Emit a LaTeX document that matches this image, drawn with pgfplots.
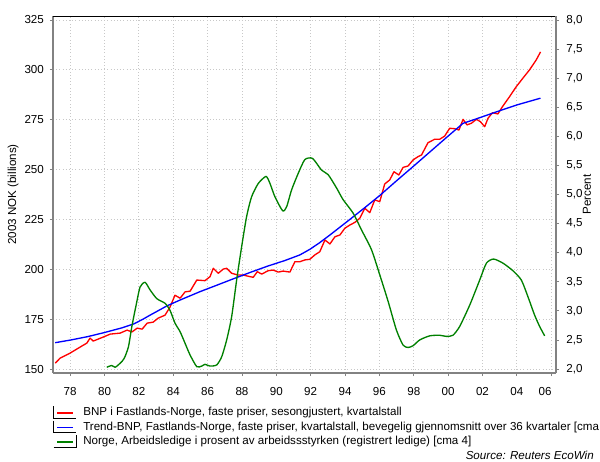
\documentclass[border=0pt]{standalone}
\usepackage{pgfplots}
\pgfplotsset{compat=1.18}
\usepackage{fontspec}
\setmainfont{Liberation Sans}
\definecolor{cred}{RGB}{255,0,0}
\definecolor{cblue}{RGB}{0,0,255}
\definecolor{cgreen}{RGB}{0,128,0}
\definecolor{gridc}{RGB}{200,200,200}
\definecolor{axc}{RGB}{130,130,130}
\newcommand{\chartfont}{\fontsize{8.7}{10}\selectfont}

\pgfplotstableread{
x y
1977.13 152.9
1977.42 155.5
1978.00 158.0
1978.58 161.0
1978.97 163.0
1979.16 165.5
1979.34 164.0
1979.92 166.0
1980.33 167.5
1980.91 168.0
1981.31 169.5
1981.60 168.6
1981.90 170.5
1982.19 170.0
1982.48 173.0
1982.83 173.5
1983.12 175.5
1983.52 177.0
1983.81 181.0
1984.10 187.0
1984.40 185.5
1984.69 188.7
1984.98 189.0
1985.37 194.6
1985.85 194.3
1986.14 196.3
1986.33 200.5
1986.62 198.0
1986.91 200.1
1987.11 200.5
1987.40 198.0
1987.78 197.1
1988.08 197.1
1988.47 196.3
1988.66 196.0
1988.89 198.8
1989.15 197.6
1989.53 199.3
1989.82 199.6
1990.11 198.6
1990.40 199.1
1990.79 198.6
1991.08 203.8
1991.37 203.8
1991.66 204.7
1991.95 205.0
1992.24 207.2
1992.53 208.8
1992.83 214.7
1993.12 212.7
1993.41 216.3
1993.70 217.2
1993.99 220.6
1994.28 222.2
1994.57 223.5
1994.86 225.6
1995.15 230.6
1995.44 228.4
1995.73 234.8
1996.02 233.9
1996.31 242.8
1996.60 244.8
1996.85 248.9
1997.13 247.3
1997.38 251.1
1997.67 251.8
1997.96 254.8
1998.25 256.5
1998.45 257.3
1998.83 263.5
1999.22 265.2
1999.51 265.2
1999.80 266.8
2000.09 270.7
2000.38 270.5
2000.63 269.8
2000.87 275.2
2001.10 272.4
2001.35 273.2
2001.65 275.2
2001.88 274.0
2002.13 271.5
2002.32 275.7
2002.58 278.5
2002.90 277.9
2003.16 281.5
2003.58 286.6
2003.97 291.6
2004.35 295.8
2004.74 300.0
2005.13 305.0
2005.38 309.0
}\bnp

\pgfplotstableread{
x y
1977.13 163.2
1978.00 164.5
1979.00 166.2
1980.00 168.3
1981.00 170.6
1981.70 172.6
1982.20 174.8
1982.65 177.0
1983.20 179.6
1983.62 181.6
1984.40 184.6
1985.56 188.8
1986.50 191.9
1987.49 195.2
1988.50 198.5
1989.50 201.6
1990.50 204.4
1991.37 207.2
1991.95 210.0
1992.50 213.2
1993.12 217.2
1994.28 225.0
1995.15 230.9
1996.02 237.0
1997.00 244.4
1998.00 251.8
1999.00 259.3
2000.00 266.8
2000.87 273.2
2001.50 275.0
2002.00 276.5
2003.00 279.5
2004.00 282.4
2005.38 285.8
}\trend

\pgfplotstableread{
x y
1980.13 2.03
1980.42 2.06
1980.62 2.03
1980.91 2.10
1981.14 2.18
1981.39 2.38
1981.59 2.73
1981.84 3.10
1982.07 3.41
1982.36 3.49
1982.65 3.36
1983.04 3.21
1983.52 3.13
1983.81 3.01
1984.10 2.79
1984.40 2.64
1984.69 2.44
1984.98 2.24
1985.37 2.04
1985.66 2.05
1985.85 2.08
1986.14 2.05
1986.53 2.07
1986.82 2.21
1987.11 2.50
1987.40 2.90
1987.69 3.53
1987.98 4.10
1988.27 4.62
1988.56 4.96
1988.95 5.19
1989.40 5.31
1989.63 5.19
1989.92 4.96
1990.37 4.72
1990.60 4.79
1990.89 5.08
1991.27 5.36
1991.66 5.60
1992.11 5.62
1992.63 5.42
1993.02 5.34
1993.51 5.11
1993.89 4.91
1994.47 4.68
1994.96 4.39
1995.54 4.05
1996.02 3.62
1996.51 3.16
1996.99 2.67
1997.38 2.41
1997.67 2.37
1997.96 2.40
1998.35 2.50
1998.93 2.57
1999.51 2.58
1999.90 2.56
2000.28 2.58
2000.67 2.73
2001.26 3.10
2001.84 3.53
2002.23 3.82
2002.65 3.89
2003.19 3.82
2003.77 3.69
2004.26 3.53
2004.65 3.24
2005.03 2.93
2005.33 2.73
2005.62 2.57
}\unemp

\begin{document}
\begin{tikzpicture}
\useasboundingbox (0,0) rectangle (450pt,345.75pt);
\pgfplotsset{
  base/.style={
    at={(39.75pt,66pt)}, anchor=south west,
    width=377.25pt, height=267.75pt, scale only axis,
    xmin=1977.0, xmax=2006.28,
    font=\chartfont,
    tick label style={font=\chartfont},
    /pgf/number format/assume math mode=true,
    tick align=outside,
    major tick length=2.3pt,
    tick style={axc, line width=0.6pt},
  }
}
\begin{axis}[base,
  ymin=148, ymax=327,
  axis x line*=bottom, axis y line*=left,
  axis line style={axc, line width=1.3pt, -},
  xtick={1978,1980,...,2006},
  xticklabels={78,80,82,84,86,88,90,92,94,96,98,00,02,04,06\hspace*{9pt}},
  xticklabel style={yshift=-5pt},
  ytick={150,175,...,325},
  yticklabel style={xshift=-1pt},
  grid=major,
  major grid style={gridc, dotted, line width=0.7pt},
  ylabel={2003 NOK (billions)},
  every axis y label/.style={at={(axis description cs:-0.0795,0.5)}, anchor=center, rotate=90},
]
\addplot[cred, line width=1pt, line join=round] table[x=x,y=y] {\bnp};
\addplot[cblue, line width=1pt, line join=round] table[x=x,y=y] {\trend};
\end{axis}
\begin{axis}[base,
  ymin=1.931, ymax=8.069,
  axis x line*=top, axis y line*=right,
  x axis line style={black, line width=0.7pt, -},
  y axis line style={axc, line width=1.3pt, -},
  xtick=\empty,
  ytick={2,2.5,...,8.01},
  yticklabel style={xshift=2pt, /pgf/number format/.cd, fixed, fixed zerofill, precision=1, use comma},
  ylabel={Percent},
  every axis y label/.style={at={(axis description cs:1.0616,0.5)}, anchor=center, rotate=90},
]
\addplot[cgreen, line width=1pt, smooth, tension=0.4] table[x=x,y=y] {\unemp};
\end{axis}
% legend (pixel coordinates of the 600x461 canvas)
\begin{scope}[x=0.75pt, y=-0.75pt, yshift=345.75pt]
  \draw[black, line width=0.5pt] (53.6,406) -- (53.6,418) -- (76,418);
  \draw[cred, line width=1pt] (57,413) -- (73,413);
  \node[anchor=west, inner sep=0pt, font=\chartfont] at (83,412.5) {BNP i Fastlands-Norge, faste priser, sesongjustert, kvartalstall};
  \draw[black, line width=0.5pt] (53.6,420.5) -- (53.6,432.5) -- (76,432.5);
  \draw[cblue, line width=1pt] (57,427.5) -- (73,427.5);
  \node[anchor=west, inner sep=0pt, font=\chartfont] at (83,427) {Trend-BNP, Fastlands-Norge, faste priser, kvartalstall, bevegelig gjennomsnitt over 36 kvartaler [cma};
  \draw[black, line width=0.5pt] (53.6,447) -- (76,447) -- (76,435);
  \draw[cgreen, line width=1pt] (57,442) -- (73,442);
  \node[anchor=west, inner sep=0pt, font=\chartfont] at (83,441.5) {Norge, Arbeidsledige i prosent av arbeidssstyrken (registrert ledige) [cma 4]};
  \node[anchor=east, inner sep=0pt, font=\chartfont\itshape] at (594,455) {Source: Reuters EcoWin};
\end{scope}
\end{tikzpicture}
\end{document}
